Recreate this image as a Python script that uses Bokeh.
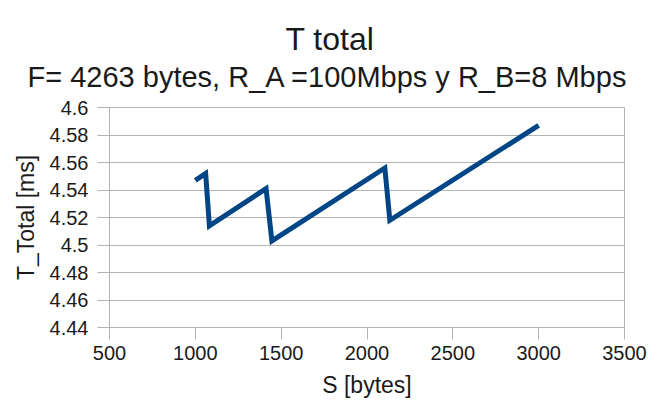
from bokeh.plotting import figure
from bokeh.models import Title, FixedTicker, CustomJSTickFormatter, Range1d
from bokeh.embed import file_html
from bokeh.resources import INLINE

# Data
s_bytes = [1000, 1060, 1082, 1412, 1446, 2104, 2133, 3000]
t_total = [4.547, 4.552, 4.514, 4.541, 4.503, 4.556, 4.518, 4.587]

x_ticks = [500, 1000, 1500, 2000, 2500, 3000, 3500]
y_ticks = [4.44, 4.46, 4.48, 4.50, 4.52, 4.54, 4.56, 4.58, 4.60]

title_text = "T total"
subtitle_text = "F= 4263 bytes, R_A =100Mbps y R_B=8 Mbps"
x_label = "S [bytes]"
y_label = "T_Total [ms]"

FONT = "Liberation Sans"
TXT = "#1a1a1a"
GRID = "#b3b3b3"

p = figure(width=650, height=400, output_backend="svg", toolbar_location=None,
           title=None, x_range=Range1d(500, 3500), y_range=Range1d(4.44, 4.6),
           min_border_left=109, min_border_right=26, min_border_bottom=70, min_border_top=107)

p.add_layout(Title(text=subtitle_text, align="left", offset=-82, text_font=FONT,
                   text_font_size="29px", text_font_style="normal", text_color=TXT,
                   standoff=30), "above")
p.add_layout(Title(text=title_text, align="left", offset=176, text_font=FONT,
                   text_font_size="32px", text_font_style="normal", text_color=TXT,
                   standoff=-27), "above")

p.line(s_bytes, t_total, line_color="#004586", line_width=5, line_join="miter")

p.outline_line_color = GRID
p.outline_line_width = 1
p.background_fill_color = "white"
p.border_fill_color = "white"

p.xgrid.grid_line_color = None
p.ygrid.grid_line_color = GRID
p.ygrid.grid_line_width = 1

p.xaxis.ticker = FixedTicker(ticks=x_ticks)
p.yaxis.ticker = FixedTicker(ticks=y_ticks)
p.yaxis.formatter = CustomJSTickFormatter(code="return (Math.round(tick*100)/100).toString();")

for ax in (p.xaxis, p.yaxis):
    ax.axis_line_color = GRID
    ax.major_tick_line_color = GRID
    ax.minor_tick_line_color = None
    ax.major_tick_in = 0
    ax.major_tick_out = 12
    ax.major_label_text_font = FONT
    ax.major_label_text_font_size = "20px"
    ax.major_label_text_color = TXT
    ax.axis_label_text_font = FONT
    ax.axis_label_text_font_size = "23px"
    ax.axis_label_text_font_style = "normal"
    ax.axis_label_text_color = TXT

p.xaxis.axis_label = x_label
p.yaxis.axis_label = y_label
p.xaxis.major_label_standoff = 6
p.yaxis.major_label_standoff = 9
p.xaxis.axis_label_standoff = 9
p.yaxis.axis_label_standoff = 8

open("out.html", "w").write(file_html(p, INLINE))
